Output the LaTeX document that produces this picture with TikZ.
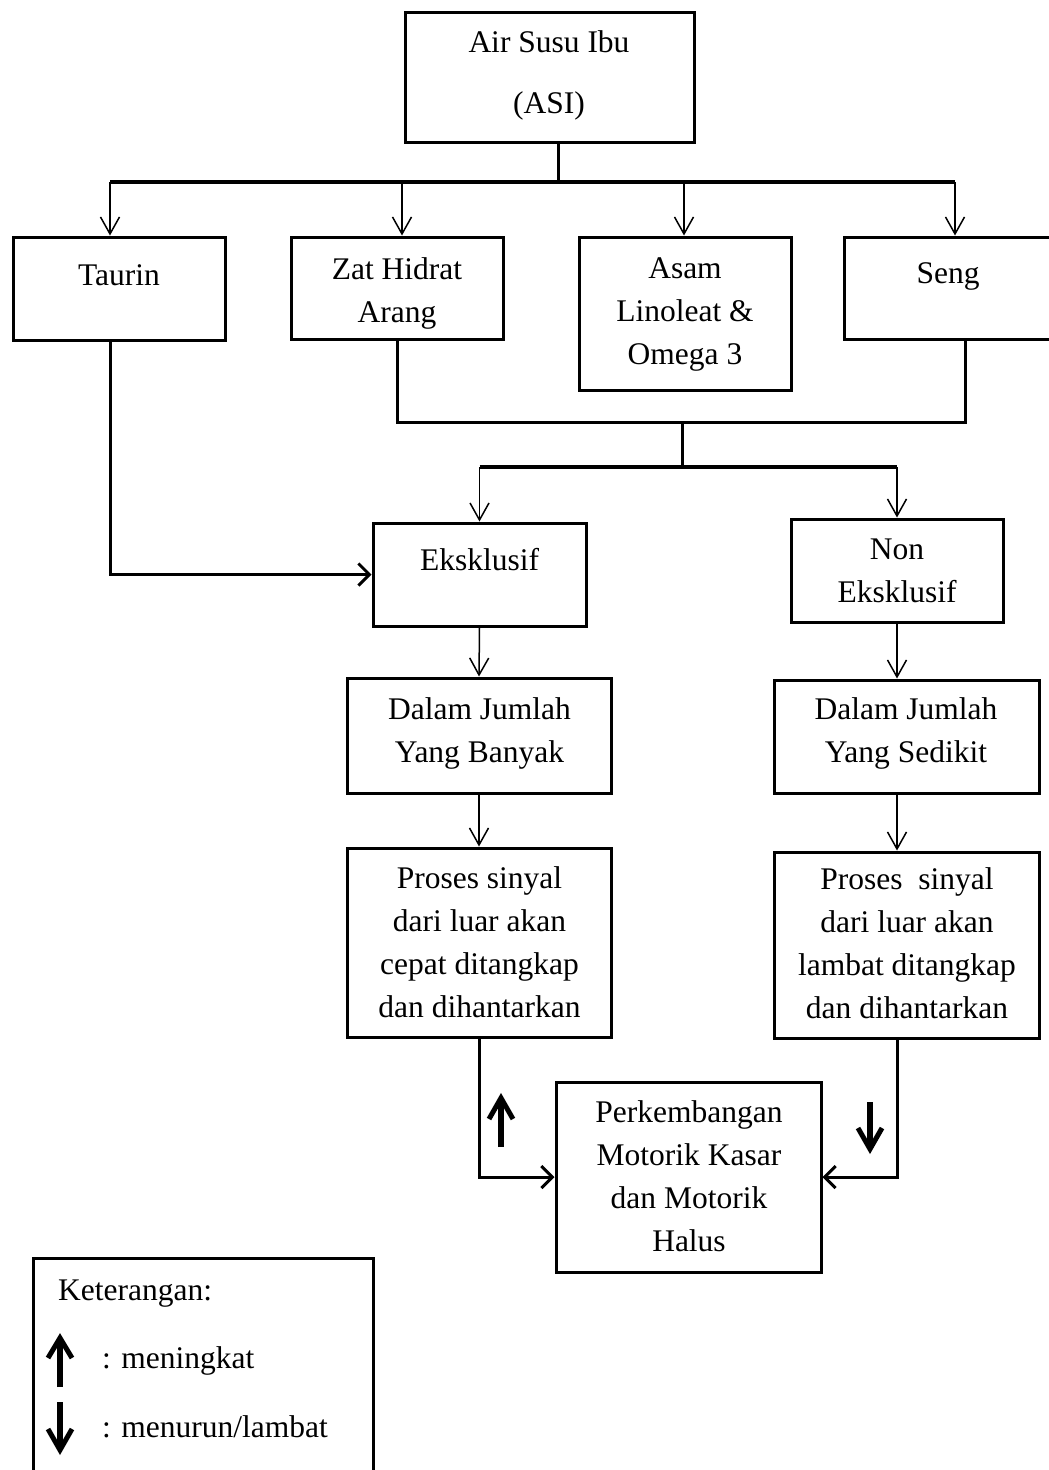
\documentclass[tikz,border=0pt]{standalone}
\usepackage{fontspec}
\setmainfont{Liberation Serif}
\usetikzlibrary{arrows.meta,calc}
\newcommand\diafont{\fontsize{31.5}{43}\selectfont}
\begin{document}
\begin{tikzpicture}[x=1pt,y=-1pt,
 box/.style={draw,line width=3pt,rectangle,inner sep=0pt},
 txt/.style={font=\diafont,align=center,anchor=base,inner sep=0pt},
 thinarr/.style={line width=1.5pt,-{Straight Barb[length=17pt,width=19pt]}},
 busline/.style={line width=3.5pt},
 link/.style={line width=3pt},
 linkarr/.style={line width=3pt,-{Straight Barb[length=11pt,width=22pt]}},
 symline/.style={line width=6pt},
 symhead/.style={line width=5pt,line join=miter,miter limit=10},
]
\useasboundingbox (0,0) rectangle (1049,1470);
\fill[white] (0,0) rectangle (1049,1470);

% boxes
\node[box,minimum width=289pt,minimum height=130pt] (asi) at (550,77) {};
\node[box,minimum width=212pt,minimum height=103pt] (taurin) at (119,288.5) {};
\node[box,minimum width=212pt,minimum height=102pt] (zat) at (397,288) {};
\node[box,minimum width=212pt,minimum height=153pt] (asam) at (685,313.5) {};
\node[box,minimum width=242pt,minimum height=102pt] (seng) at (965,288) {};
\node[box,minimum width=213pt,minimum height=103pt] (eks) at (479.5,574.5) {};
\node[box,minimum width=212pt,minimum height=103pt] (non) at (897,570.5) {};
\node[box,minimum width=264pt,minimum height=115pt] (dj1) at (479,735.5) {};
\node[box,minimum width=265pt,minimum height=113pt] (dj2) at (906.5,736.5) {};
\node[box,minimum width=264pt,minimum height=189pt] (pr1) at (479,942.5) {};
\node[box,minimum width=265pt,minimum height=186pt] (pr2) at (906.5,945) {};
\node[box,minimum width=265pt,minimum height=190pt] (perk) at (688.5,1177) {};
\node[box,minimum width=340pt,minimum height=232pt] (leg) at (203,1374) {};

% texts (anchor base = baseline of the last line)
\node[txt] (asiT) at (549,113) {Air Susu Ibu\\[18pt](ASI)};
\node[txt] (taurinT) at (119,285) {Taurin};
\node[txt] (zatT) at (397,322) {Zat Hidrat\\Arang};
\node[txt] (asamT) at (685,364) {Asam\\Linoleat \&\\Omega 3};
\node[txt] (sengT) at (948,283) {Seng};
\node[txt] (eksT) at (479.5,570) {Eksklusif};
\node[txt] (nonT) at (897,602) {Non\\Eksklusif};
\node[txt] (dj1T) at (479.5,762) {Dalam Jumlah\\Yang Banyak};
\node[txt] (dj2T) at (906,762) {Dalam Jumlah\\Yang Sedikit};
\node[txt] (pr1T) at (479.5,1017) {Proses sinyal\\dari luar akan\\cepat ditangkap\\dan dihantarkan};
\node[txt] (pr2T) at (907,1018) {Proses\ \ sinyal\\dari luar akan\\lambat ditangkap\\dan dihantarkan};
\node[txt] (perkT) at (689,1251) {Perkembangan\\Motorik Kasar\\dan Motorik\\Halus};
\node[txt,anchor=base west] (ketT) at (58,1300) {Keterangan:};
\node[txt,anchor=base west] (upT) at (102,1368) {: meningkat};
\node[txt,anchor=base west] (downT) at (102,1437) {: menurun/lambat};

% top bus
\coordinate (top) at (558,182);
\coordinate (bL) at (110,182);
\coordinate (b2) at (402,182);
\coordinate (b3) at (684,182);
\coordinate (bR) at (955,182);
\draw[link] (asi.south -| top) -- (top);
\draw[busline] (bL) -- (bR);
\draw[thinarr] (bL) -- (bL |- taurin.north);
\draw[thinarr] (b2) -- (b2 |- zat.north);
\draw[thinarr] (b3) -- (b3 |- asam.north);
\draw[thinarr] (bR) -- (bR |- seng.north);

% taurin to eksklusif
\draw[linkarr] (bL |- taurin.south) |- (eks.west);

% merge of zat and seng
\coordinate (m) at (682,422);
\coordinate (n) at (682,467);
\draw[link] (zat.south) |- (m) -| (seng.south);
\draw[link] (m) -- (n);
\draw[busline] (eks.north |- n) -- (non.north |- n);
\draw[thinarr] (eks.north |- n) -- (eks.north);
\draw[thinarr] (non.north |- n) -- (non.north);

% chains
\draw[thinarr] (eks.south) -- (dj1.north);
\draw[thinarr] (non.south) -- (non.south |- dj2.north);
\draw[thinarr] (dj1.south) -- (pr1.north);
\draw[thinarr] (non.south |- dj2.south) -- (non.south |- pr2.north);
\draw[linkarr] (pr1.south) |- (perk.west);
\draw[linkarr] (non.south |- pr2.south) |- (perk.east);

% trend arrows (up = meningkat, down = menurun)
\draw[symline] (501,1147) -- (501,1100);
\draw[symhead] (489,1119) -- (501,1098) -- (513,1119);
\draw[symline] (870,1102) -- (870,1149);
\draw[symhead] (858,1128) -- (870,1149) -- (882,1128);
\draw[symline] (60,1387) -- (60,1340);
\draw[symhead] (48,1358) -- (60,1338) -- (72,1358);
\draw[symline] (60,1402) -- (60,1449);
\draw[symhead] (48,1429) -- (60,1450) -- (72,1429);
\end{tikzpicture}
\end{document}
